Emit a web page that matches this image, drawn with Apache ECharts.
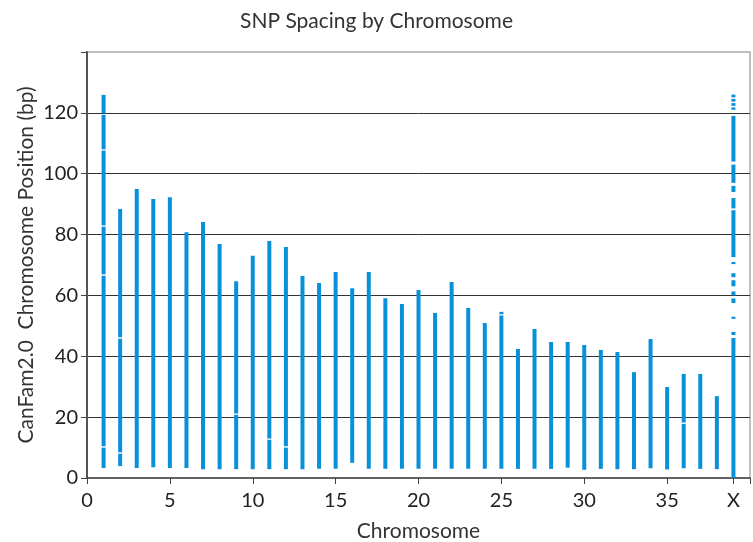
<!DOCTYPE html>
<html><head><meta charset="utf-8">
<script src="https://cdn.jsdelivr.net/npm/echarts@6/dist/echarts.min.js"></script>
<style>html,body{margin:0;padding:0;background:#fff}#c{width:753px;height:542px}</style>
</head><body><div id="c"></div>
<script>
// Chromosome names and their x positions
var chrNames = ['1','2','3','4','5','6','7','8','9','10','11','12','13','14','15','16','17','18','19','20','21','22','23','24','25','26','27','28','29','30','31','32','33','34','35','36','37','38'];
var chrPos = [1,2,3,4,5,6,7,8,9,10,11,12,13,14,15,16,17,18,19,20,21,22,23,24,25,26,27,28,29,30,31,32,33,34,35,36,37,38];
// First and last SNP position (Mb) per chromosome
var chrStart = [3.3,3.9,3.3,3.5,3.3,3.3,2.9,2.9,2.9,2.9,2.9,2.9,2.9,3.0,3.0,5.0,3.0,3.0,3.0,3.0,3.0,3.0,3.0,3.0,3.0,3.0,3.0,3.0,3.4,2.7,3.0,2.9,2.9,3.2,2.8,3.2,3.0,2.9];
var chrEnd = [125.9,88.4,95.0,91.7,92.3,80.8,84.1,76.9,64.7,73.0,77.9,75.9,66.4,64.1,67.7,62.4,67.7,59.1,57.2,61.8,54.2,64.4,55.9,50.9,54.6,42.4,49.0,44.7,44.7,43.7,42.1,41.4,34.8,45.7,29.9,34.2,34.2,26.9];
// Visible gaps in SNP coverage: [chromosome position, gap centre (Mb)]
var chrGaps = [[1,119.6],[1,107.8],[1,82.8],[1,66.7],[1,10.2],[2,46.0],[2,8.2],[9,21.0],[11,12.8],[12,10.2],[25,53.6],[36,18.0]];
// Chromosome X (position 39) covered segments [low, high] (Mb)
var xChrPos = 39;
var xChrSegments = [[0,46],[47,48],[52.3,53],[57.5,59],[60,61.3],[63,65],[66,67.3],[70.3,71],[72.6,88],[88.6,92],[94,96],[97,103],[104,119],[121,121.8],[122.3,123.2],[123.7,124.6],[125.1,126]];
// Axis tick labels
var xTickValues = [0,5,10,15,20,25,30,35,39];
var xTickLabels = ['0','5','10','15','20','25','30','35','X'];

var segData = [];
for (var i = 0; i < chrPos.length; i++) {
  var p = chrPos[i];
  var cuts = chrGaps.filter(function (g) { return g[0] === p; }).map(function (g) { return g[1]; }).sort(function (a, b) { return a - b; });
  var lo = chrStart[i];
  for (var k = 0; k < cuts.length; k++) {
    segData.push([p, lo, cuts[k] - 0.22]);
    lo = cuts[k] + 0.22;
  }
  segData.push([p, lo, chrEnd[i]]);
}
xChrSegments.forEach(function (s) { segData.push([xChrPos, s[0], s[1]]); });

var FONT = 'Lato';
var chart = echarts.init(document.getElementById('c'));
chart.setOption({
  animation: false,
  backgroundColor: '#fff',
  title: {
    text: 'SNP Spacing by Chromosome', left: 'center', top: 6,
    textStyle: { fontFamily: FONT, fontSize: 21, fontWeight: 'normal', color: '#333' }
  },
  grid: { left: 87, right: 3, top: 52, bottom: 64, show: true, borderColor: '#aaa', borderWidth: 1.5, containLabel: false, outerBoundsMode: 'none' },
  xAxis: {
    type: 'value', min: 0, max: 40, interval: 1,
    name: 'Chromosome', nameLocation: 'middle', nameGap: 43, nameMoveOverlap: false,
    nameTextStyle: { fontFamily: FONT, fontSize: 21, color: '#333' },
    axisLine: { show: true, lineStyle: { color: '#444', width: 1.5 } },
    axisTick: { show: true, length: 6, customValues: xTickValues.concat([40]), lineStyle: { color: '#444' } },
    axisLabel: {
      customValues: xTickValues,
      formatter: function (v) { var j = xTickValues.indexOf(v); return j >= 0 ? xTickLabels[j] : ''; },
      fontFamily: FONT, fontSize: 20, color: '#222', margin: 13
    },
    splitLine: { show: false }
  },
  yAxis: {
    type: 'value', min: 0, max: 140, interval: 20,
    name: 'CanFam2.0  Chromosome Position (bp)', nameLocation: 'middle', nameGap: 50, nameMoveOverlap: false,
    nameTextStyle: { fontFamily: FONT, fontSize: 21, color: '#333' },
    axisLine: { show: true, lineStyle: { color: '#555', width: 2 } },
    axisTick: { show: true, length: 6, lineStyle: { color: '#444' } },
    axisLabel: {
      formatter: function (v) { return v === 140 ? '' : String(v); },
      fontFamily: FONT, fontSize: 20, color: '#222', margin: 9
    },
    splitLine: { show: true, showMinLine: false, showMaxLine: false, lineStyle: { color: '#333', width: 1 } }
  },
  series: [{
    type: 'custom',
    data: segData,
    encode: { x: 0, y: [1, 2] },
    renderItem: function (params, api) {
      var top = api.coord([api.value(0), api.value(2)]);
      var bot = api.coord([api.value(0), api.value(1)]);
      return { type: 'rect', shape: { x: top[0] - 2, y: top[1], width: 4, height: Math.max(1, bot[1] - top[1]) }, style: { fill: '#0891d9' } };
    },
    z: 5
  }]
});
</script></body></html>
